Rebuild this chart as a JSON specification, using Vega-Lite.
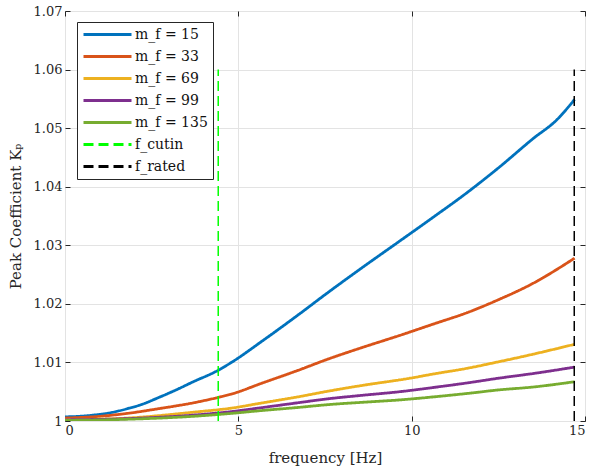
{
  "$schema": "https://vega.github.io/schema/vega-lite/v6.json",
  "width": 520,
  "height": 410,
  "autosize": {"type": "none"},
  "padding": {"left": 65, "top": 11, "right": 7, "bottom": 49},
  "background": "white",
  "config": {
    "font": "DejaVu Serif",
    "view": {"stroke": "#262626", "strokeWidth": 1},
    "axis": {
      "labelFont": "DejaVu Serif",
      "labelFontSize": 13,
      "labelColor": "#262626",
      "titleFont": "DejaVu Serif",
      "titleFontSize": 15,
      "titleFontWeight": "normal",
      "titleColor": "#262626",
      "gridColor": "#e3e3e3",
      "gridWidth": 1,
      "tickColor": "#262626",
      "domain": false,
      "tickSize": -5
    },
    "legend": {
      "orient": "none",
      "legendX": 12,
      "legendY": 11,
      "padding": 5,
      "strokeColor": "#262626",
      "fillColor": "white",
      "symbolType": "M-1,0H7",
      "symbolSize": 144,
      "symbolStrokeWidth": 2.8,
      "labelFont": "DejaVu Serif",
      "labelFontSize": 14,
      "labelColor": "#111111",
      "labelOffset": 38,
      "rowPadding": 7,
      "labelLimit": 200
    }
  },
  "datasets": {
    "curves": [
      {"series": "m_f = 15", "x": 0, "y": 1.0007},
      {"series": "m_f = 15", "x": 0.4, "y": 1.0008},
      {"series": "m_f = 15", "x": 0.8, "y": 1.0010},
      {"series": "m_f = 15", "x": 1.3, "y": 1.0014},
      {"series": "m_f = 15", "x": 1.8, "y": 1.0021},
      {"series": "m_f = 15", "x": 2.2, "y": 1.0028},
      {"series": "m_f = 15", "x": 2.7, "y": 1.0040},
      {"series": "m_f = 15", "x": 3.2, "y": 1.0053},
      {"series": "m_f = 15", "x": 3.7, "y": 1.0067},
      {"series": "m_f = 15", "x": 4.4, "y": 1.0086},
      {"series": "m_f = 15", "x": 4.8, "y": 1.0100},
      {"series": "m_f = 15", "x": 5.7, "y": 1.0137},
      {"series": "m_f = 15", "x": 6.7, "y": 1.0180},
      {"series": "m_f = 15", "x": 7.6, "y": 1.0220},
      {"series": "m_f = 15", "x": 8.6, "y": 1.0263},
      {"series": "m_f = 15", "x": 9.65, "y": 1.0307},
      {"series": "m_f = 15", "x": 10.6, "y": 1.0347},
      {"series": "m_f = 15", "x": 11.6, "y": 1.0390},
      {"series": "m_f = 15", "x": 12.5, "y": 1.0432},
      {"series": "m_f = 15", "x": 13.5, "y": 1.0482},
      {"series": "m_f = 15", "x": 14.2, "y": 1.0515},
      {"series": "m_f = 15", "x": 14.7, "y": 1.0549},
      {"series": "m_f = 33", "x": 0, "y": 1.0005},
      {"series": "m_f = 33", "x": 1.0, "y": 1.0008},
      {"series": "m_f = 33", "x": 1.8, "y": 1.0013},
      {"series": "m_f = 33", "x": 2.7, "y": 1.0021},
      {"series": "m_f = 33", "x": 3.7, "y": 1.0031},
      {"series": "m_f = 33", "x": 4.4, "y": 1.0040},
      {"series": "m_f = 33", "x": 4.8, "y": 1.0046},
      {"series": "m_f = 33", "x": 5.7, "y": 1.0065},
      {"series": "m_f = 33", "x": 6.7, "y": 1.0086},
      {"series": "m_f = 33", "x": 7.6, "y": 1.0106},
      {"series": "m_f = 33", "x": 8.6, "y": 1.0126},
      {"series": "m_f = 33", "x": 9.65, "y": 1.0146},
      {"series": "m_f = 33", "x": 10.6, "y": 1.0165},
      {"series": "m_f = 33", "x": 11.6, "y": 1.0185},
      {"series": "m_f = 33", "x": 12.5, "y": 1.0207},
      {"series": "m_f = 33", "x": 13.5, "y": 1.0235},
      {"series": "m_f = 33", "x": 14.7, "y": 1.0278},
      {"series": "m_f = 69", "x": 0, "y": 1.0002},
      {"series": "m_f = 69", "x": 1.8, "y": 1.0005},
      {"series": "m_f = 69", "x": 3.7, "y": 1.0015},
      {"series": "m_f = 69", "x": 4.8, "y": 1.0022},
      {"series": "m_f = 69", "x": 5.7, "y": 1.0031},
      {"series": "m_f = 69", "x": 6.7, "y": 1.0041},
      {"series": "m_f = 69", "x": 7.6, "y": 1.0051},
      {"series": "m_f = 69", "x": 8.6, "y": 1.0061},
      {"series": "m_f = 69", "x": 9.95, "y": 1.0073},
      {"series": "m_f = 69", "x": 10.6, "y": 1.0080},
      {"series": "m_f = 69", "x": 11.6, "y": 1.0090},
      {"series": "m_f = 69", "x": 12.5, "y": 1.0101},
      {"series": "m_f = 69", "x": 13.5, "y": 1.0114},
      {"series": "m_f = 69", "x": 14.7, "y": 1.0131},
      {"series": "m_f = 99", "x": 0, "y": 1.0002},
      {"series": "m_f = 99", "x": 1.8, "y": 1.0004},
      {"series": "m_f = 99", "x": 3.7, "y": 1.0010},
      {"series": "m_f = 99", "x": 4.8, "y": 1.0016},
      {"series": "m_f = 99", "x": 5.7, "y": 1.0023},
      {"series": "m_f = 99", "x": 6.7, "y": 1.0031},
      {"series": "m_f = 99", "x": 7.6, "y": 1.0038},
      {"series": "m_f = 99", "x": 8.6, "y": 1.0044},
      {"series": "m_f = 99", "x": 9.65, "y": 1.0050},
      {"series": "m_f = 99", "x": 10.6, "y": 1.0057},
      {"series": "m_f = 99", "x": 11.6, "y": 1.0065},
      {"series": "m_f = 99", "x": 12.5, "y": 1.0073},
      {"series": "m_f = 99", "x": 13.5, "y": 1.0081},
      {"series": "m_f = 99", "x": 14.7, "y": 1.0092},
      {"series": "m_f = 135", "x": 0, "y": 1.0001},
      {"series": "m_f = 135", "x": 1.8, "y": 1.0003},
      {"series": "m_f = 135", "x": 3.7, "y": 1.0008},
      {"series": "m_f = 135", "x": 4.8, "y": 1.0013},
      {"series": "m_f = 135", "x": 5.7, "y": 1.0018},
      {"series": "m_f = 135", "x": 6.7, "y": 1.0023},
      {"series": "m_f = 135", "x": 7.6, "y": 1.0028},
      {"series": "m_f = 135", "x": 8.6, "y": 1.0032},
      {"series": "m_f = 135", "x": 9.65, "y": 1.0036},
      {"series": "m_f = 135", "x": 10.6, "y": 1.0041},
      {"series": "m_f = 135", "x": 11.6, "y": 1.0047},
      {"series": "m_f = 135", "x": 12.5, "y": 1.0053},
      {"series": "m_f = 135", "x": 13.5, "y": 1.0058},
      {"series": "m_f = 135", "x": 14.7, "y": 1.0067}
    ],
    "rules": [
      {"series": "f_cutin", "x": 4.42, "y": 1.0, "y2": 1.06},
      {"series": "f_rated", "x": 14.69, "y": 1.0, "y2": 1.06}
    ]
  },
  "layer": [
    {
      "data": {"name": "curves"},
      "mark": {"type": "line", "strokeWidth": 2.8, "clip": true, "interpolate": "monotone"},
      "encoding": {
        "x": {
          "field": "x", "type": "quantitative",
          "scale": {"domain": [0, 15], "nice": false},
          "axis": {"title": "frequency [Hz]", "values": [0, 5, 10, 15], "grid": true, "labelPadding": 8, "titlePadding": 13}
        },
        "y": {
          "field": "y", "type": "quantitative",
          "scale": {"domain": [1, 1.07], "nice": false, "zero": false},
          "axis": {
            "title": "Peak Coefficient Kₚ",
            "values": [1, 1.01, 1.02, 1.03, 1.04, 1.05, 1.06, 1.07],
            "labelExpr": "datum.value == 1 ? '1' : format(datum.value, '.2f')",
            "grid": true, "labelPadding": 8, "titlePadding": 10
          }
        },
        "color": {
          "field": "series", "type": "nominal", "title": null,
          "scale": {
            "domain": ["m_f = 15", "m_f = 33", "m_f = 69", "m_f = 99", "m_f = 135", "f_cutin", "f_rated"],
            "range": ["#0072BD", "#D95319", "#EDB120", "#7E2F8E", "#77AC30", "#00FF00", "#000000"]
          }
        },
        "strokeDash": {
          "field": "series", "type": "nominal", "title": null,
          "scale": {
            "domain": ["m_f = 15", "m_f = 33", "m_f = 69", "m_f = 99", "m_f = 135", "f_cutin", "f_rated"],
            "range": [[1, 0], [1, 0], [1, 0], [1, 0], [1, 0], [10, 5], [10, 5]]
          }
        }
      }
    },
    {
      "data": {"name": "rules"},
      "mark": {"type": "rule", "strokeWidth": 1.5},
      "encoding": {
        "x": {
          "field": "x", "type": "quantitative",
          "axis": {"orient": "top", "labels": false, "title": null, "grid": false, "values": [0, 5, 10, 15]}
        },
        "y": {
          "field": "y", "type": "quantitative",
          "axis": {"orient": "right", "labels": false, "title": null, "grid": false, "values": [1, 1.01, 1.02, 1.03, 1.04, 1.05, 1.06, 1.07]}
        },
        "y2": {"field": "y2"},
        "color": {"field": "series", "type": "nominal", "title": null},
        "strokeDash": {"field": "series", "type": "nominal", "title": null}
      }
    }
  ],
  "resolve": {"axis": {"x": "independent", "y": "independent"}}
}
